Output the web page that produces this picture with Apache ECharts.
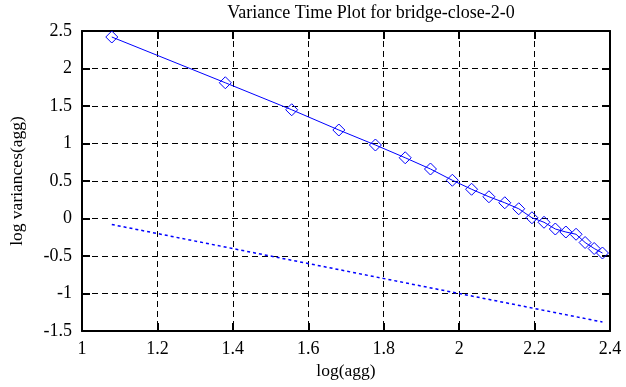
<!DOCTYPE html>
<html>
<head>
<meta charset="utf-8">
<script src="https://cdn.jsdelivr.net/npm/echarts@6/dist/echarts.min.js"></script>
<style>
html,body{margin:0;padding:0;background:#fff;}
#chart{width:626px;height:387px;}
</style>
</head>
<body>
<div id="chart"></div>
<script>
var titleText = 'Variance Time Plot for bridge-close-2-0';
var xLabel = 'log(agg)';
var yLabel = 'log variances(agg)';
var logAgg = [1.079,1.380,1.556,1.681,1.778,1.857,1.924,1.982,2.033,2.079,2.121,2.158,2.193,2.225,2.255,2.283,2.310,2.334,2.358,2.380];
var logVar = [2.42,1.81,1.45,1.18,0.98,0.81,0.66,0.51,0.39,0.29,0.21,0.13,0.01,-0.05,-0.14,-0.18,-0.21,-0.32,-0.40,-0.46];
var refX = [1.079, 2.380];
var refY = [-0.08, -1.38];

var font = 'Liberation Serif';
var chart = echarts.init(document.getElementById('chart'));
var tickStyle = {show:true, inside:true, length:8, lineStyle:{color:'#000', width:2}};
var gridLine = {show:true, lineStyle:{color:'#000', width:1, type:[6,4]}};
var axisLine = {show:true, onZero:false, lineStyle:{color:'#000', width:2}};
chart.setOption({
  animation:false,
  backgroundColor:'#fff',
  title:{text:titleText, left:366, textAlign:'center', top:-1,
    textStyle:{fontFamily:font, fontSize:18, fontWeight:'normal', color:'#000'}},
  grid:{left:82, right:16, top:31, bottom:56, show:false, containLabel:false, outerBoundsMode:'none'},
  xAxis:[{
    type:'value', min:1, max:2.4, interval:0.2, position:'bottom',
    name:xLabel, nameLocation:'middle', nameGap:27,
    nameTextStyle:{fontFamily:font, fontSize:17.5, color:'#000'},
    axisLine:axisLine, axisTick:tickStyle, splitLine:gridLine,
    axisLabel:{fontFamily:font, fontSize:18, color:'#000', margin:9}
  },{
    type:'value', min:1, max:2.4, interval:0.2, position:'top',
    axisLine:axisLine, axisTick:tickStyle, splitLine:{show:false},
    axisLabel:{show:false}
  }],
  yAxis:[{
    type:'value', min:-1.5, max:2.5, interval:0.5, position:'left',
    name:yLabel, nameLocation:'middle', nameGap:56, nameRotate:90,
    nameTextStyle:{fontFamily:font, fontSize:17.5, color:'#000'},
    axisLine:axisLine, axisTick:tickStyle, splitLine:gridLine,
    axisLabel:{fontFamily:font, fontSize:18, color:'#000', margin:10}
  },{
    type:'value', min:-1.5, max:2.5, interval:0.5, position:'right',
    axisLine:axisLine, axisTick:tickStyle, splitLine:{show:false},
    axisLabel:{show:false}
  }],
  series:[{
    type:'line',
    data:logAgg.map(function(x,i){return [x, logVar[i]];}),
    symbol:'diamond', symbolSize:12,
    lineStyle:{color:'#0000ff', width:1},
    itemStyle:{color:'rgba(0,0,0,0)', borderColor:'#0000ff', borderWidth:1},
    z:5
  },{
    type:'line',
    data:refX.map(function(x,i){return [x, refY[i]];}),
    symbol:'none',
    lineStyle:{color:'#0000ff', width:1.5, type:[3,3]},
    z:4
  }]
});
</script>
</body>
</html>
